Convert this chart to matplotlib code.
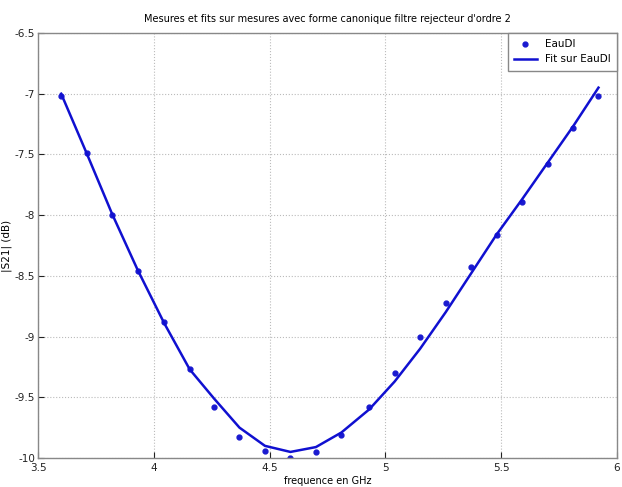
#!/usr/bin/env python3

import numpy as np
import matplotlib.pyplot as plt
from matplotlib.ticker import FuncFormatter

plt.rcParams['axes.unicode_minus'] = False

# mesures EauDI
freq = [3.60, 3.71, 3.82, 3.93, 4.045, 4.155, 4.26, 4.37, 4.48, 4.59, 4.70,
        4.81, 4.93, 5.04, 5.15, 5.26, 5.37, 5.48, 5.59, 5.70, 5.81, 5.92]
s21_mes = [-7.02, -7.49, -8.00, -8.46, -8.88, -9.27, -9.58, -9.83, -9.94, -10.0, -9.95,
           -9.81, -9.58, -9.30, -9.00, -8.72, -8.43, -8.16, -7.89, -7.58, -7.28, -7.02]
# fit
s21_fit = [-7.00, -7.49, -7.99, -8.45, -8.89, -9.27, -9.51, -9.75, -9.90, -9.95, -9.91,
           -9.79, -9.60, -9.37, -9.10, -8.80, -8.48, -8.16, -7.87, -7.57, -7.27, -6.95]

xticks = [3.5, 4, 4.5, 5, 5.5, 6]
yticks = [-10, -9.5, -9, -8.5, -8, -7.5, -7, -6.5]

fig = plt.figure(figsize=(6.22, 4.87), dpi=100)
ax = fig.add_axes([38 / 622, 1 - 458 / 487, 579 / 622, 425 / 487])

ax.plot(freq, s21_mes, 'o', color='#1a1ad0', markersize=3.5, markeredgewidth=1.0,
        label='EauDI')
ax.plot(freq, s21_fit, '-', color='#1010d0', linewidth=1.8, label='Fit sur EauDI')

ax.set_xlim(3.5, 6)
ax.set_ylim(-10, -6.5)
ax.set_xticks(xticks)
ax.set_yticks(yticks)
fmt = FuncFormatter(lambda v, p: '%g' % v)
ax.xaxis.set_major_formatter(fmt)
ax.yaxis.set_major_formatter(fmt)
ax.tick_params(direction='in', labelsize=7.5, colors='#222222', length=4)
ax.tick_params(axis='y', pad=2)
for s in ax.spines.values():
    s.set_color('#888888')
    s.set_linewidth(1.0)
ax.grid(True, linestyle=':', color='#bbbbbb', linewidth=0.8)

ax.set_title('Mesures et fits sur mesures avec forme canonique filtre rejecteur d\'ordre 2',
             fontsize=7, pad=8)
ax.set_xlabel('frequence en GHz', fontsize=7, labelpad=2)
ax.set_ylabel('|S21| (dB)', fontsize=7.5)
ax.yaxis.set_label_coords(-0.045, 0.5)

leg = ax.legend(loc='upper right', fontsize=7.5, fancybox=False, framealpha=1,
                edgecolor='#888888', borderaxespad=0.0, handlelength=2.2,
                borderpad=0.6)
leg.get_frame().set_linewidth(1.0)

fig.savefig('out.png', dpi=100)
